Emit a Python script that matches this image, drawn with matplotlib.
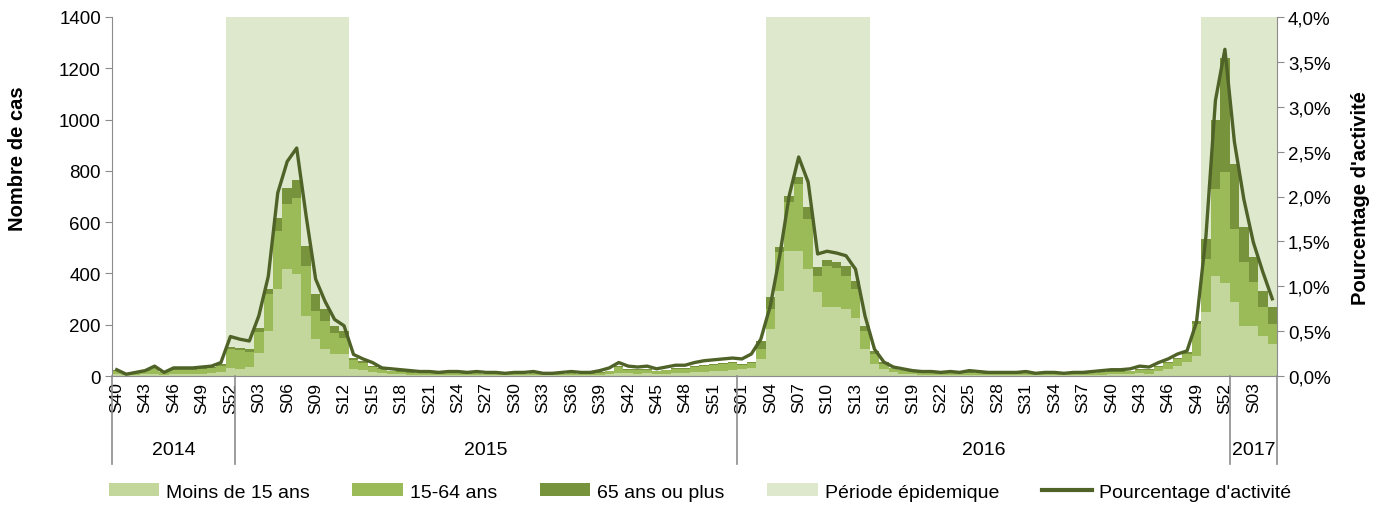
import numpy as np
import matplotlib
matplotlib.use("Agg")
import matplotlib.pyplot as plt
from matplotlib.patches import Patch
from matplotlib.lines import Line2D
from matplotlib.ticker import FuncFormatter

plt.rcParams["font.family"] = ["Liberation Sans", "DejaVu Sans"]

# semaines par saison (S40 2014 -> S05 2017)
annees = ["2014", "2015", "2016", "2017"]
premiere_semaine = [40, 1, 1, 1]
derniere_semaine = [52, 53, 52, 5]

# cas par classe d'âge
moins15 = [
    6, 3, 4, 6, 9, 5, 8, 8, 8, 9, 10, 14, 30,
    28, 35, 91, 175, 338, 416, 396, 234, 143, 104, 84, 84, 26, 22, 15, 12,
    7, 6, 5, 4, 4, 3, 4, 4, 3, 4, 3, 3, 2, 3, 3, 4, 2, 2, 3, 4, 3, 3, 5, 7, 13, 10, 9, 10, 7, 9, 11, 12, 14, 16, 18, 20, 22,
    27, 33, 66, 183, 333, 489, 489, 417, 326, 268, 268, 261, 228, 105, 45, 27, 16,
    9, 6, 5, 5, 4, 5, 4, 5, 4, 3, 3, 3, 3, 4, 3, 3, 3, 3, 3, 3, 4, 5, 6, 7, 7, 10, 9,
    21, 27, 40, 53, 79, 248, 390, 364,
    287, 196, 196, 157, 124,
]
adultes = [
    13, 5, 9, 13, 21, 9, 16, 17, 17, 19, 21, 26, 75,
    72, 60, 82, 143, 227, 253, 299, 195, 110, 110, 85, 65, 38, 30, 20, 17,
    11, 10, 8, 7, 7, 6, 7, 7, 6, 6, 5, 5, 4, 5, 5, 6, 4, 4, 5, 6, 5, 6, 8, 11, 21, 15, 14, 15, 11, 13, 16, 17, 20, 23, 25, 27, 28,
    17, 19, 39, 78, 149, 188, 260, 195, 65, 162, 152, 130, 111, 71, 40, 20, 14,
    13, 10, 8, 8, 7, 7, 6, 8, 8, 6, 6, 6, 6, 7, 4, 6, 5, 4, 6, 6, 8, 9, 10, 10, 12, 15, 14,
    16, 22, 28, 32, 124, 208, 338, 430,
    286, 247, 169, 111, 79,
]
seniors = [
    3, 1, 2, 3, 4, 2, 3, 3, 3, 4, 4, 5, 8,
    10, 9, 15, 20, 52, 65, 71, 77, 68, 46, 26, 26, 7, 6, 4, 3,
    2, 2, 2, 2, 1, 1, 1, 1, 1, 1, 1, 1, 1, 1, 1, 1, 1, 1, 1, 1, 1, 1, 1, 2, 4, 3, 3, 3, 2, 3, 3, 3, 4, 5, 5, 5, 5,
    3, 3, 32, 46, 20, 26, 26, 46, 33, 23, 23, 39, 33, 20, 13, 6, 3,
    3, 2, 2, 1, 1, 1, 1, 2, 1, 1, 1, 1, 1, 1, 1, 1, 1, 1, 1, 1, 1, 1, 2, 2, 2, 3, 3,
    3, 4, 4, 7, 13, 78, 272, 448,
    254, 137, 98, 65, 65,
]
# pourcentage d'activité (%)
activite = [
    0.07, 0.02, 0.04, 0.06, 0.11, 0.04, 0.09, 0.09, 0.09, 0.10, 0.11, 0.15, 0.44,
    0.41, 0.39, 0.67, 1.11, 2.04, 2.39, 2.54, 1.78, 1.08, 0.83, 0.63, 0.56, 0.24, 0.19, 0.15, 0.09,
    0.08, 0.07, 0.06, 0.05, 0.05, 0.04, 0.05, 0.05, 0.04, 0.05, 0.04, 0.04, 0.03, 0.04, 0.04, 0.05, 0.03, 0.03, 0.04,
    0.05, 0.04, 0.04, 0.06, 0.09, 0.15, 0.11, 0.10, 0.11, 0.08, 0.10, 0.12, 0.12, 0.15, 0.17, 0.18, 0.19, 0.20,
    0.19, 0.245, 0.41, 0.78, 1.34, 2.01, 2.44, 2.16, 1.36, 1.39, 1.37, 1.34, 1.19, 0.67, 0.30, 0.155, 0.10,
    0.08, 0.06, 0.05, 0.05, 0.04, 0.05, 0.04, 0.06, 0.05, 0.04, 0.04, 0.04, 0.04, 0.05, 0.03, 0.04, 0.04, 0.03, 0.04,
    0.04, 0.05, 0.06, 0.07, 0.07, 0.08, 0.11, 0.10,
    0.15, 0.19, 0.245, 0.28, 0.60, 1.56, 3.07, 3.64,
    2.61, 1.97, 1.49, 1.16, 0.86,
]
# périodes épidémiques (année, semaine début) -> (année, semaine fin)
epidemies = [(("2014", 52), ("2015", 12)), (("2016", 4), ("2016", 14)), (("2016", 50), ("2017", 5))]

# construction des catégories
semaines, index = [], {}
for an, s0, s1 in zip(annees, premiere_semaine, derniere_semaine):
    for s in range(s0, s1 + 1):
        index[(an, s)] = len(semaines)
        semaines.append("S%02d" % s)
n = len(semaines)
x = np.arange(n)

c_light, c_mid, c_dark = "#c3d69b", "#9bbb59", "#77933c"
c_epi, c_line, c_axe = "#dee8cc", "#4f6228", "#8c8c8c"

fig = plt.figure(figsize=(13.86, 5.06), dpi=100)
ax = fig.add_axes([112 / 1386, 1 - 377 / 506, 1165 / 1386, 359 / 506])

for (deb, fin) in epidemies:
    ax.axvspan(index[deb] - 0.5, index[fin] + 0.5, color=c_epi, lw=0, zorder=0)

m = np.array(moins15)
a = np.array(adultes)
s = np.array(seniors)
ax.bar(x, m, width=1.0, color=c_light, lw=0, zorder=2)
ax.bar(x, a, width=1.0, bottom=m, color=c_mid, lw=0, zorder=2)
ax.bar(x, s, width=1.0, bottom=m + a, color=c_dark, lw=0, zorder=2)

ax.set_xlim(-0.5, n - 0.5)
ax.set_ylim(0, 1400)
ax.set_yticks(range(0, 1401, 200))
ax.tick_params(axis="y", direction="out", length=5, color=c_axe, labelsize=13.5, pad=3)
ax.set_xticks(x[::3])
ax.set_xticklabels(semaines[::3], rotation=90, fontsize=12.5)
ax.tick_params(axis="x", length=0, pad=4)
for sp in ["top", "right"]:
    ax.spines[sp].set_visible(False)
for sp in ["left", "bottom"]:
    ax.spines[sp].set_color(c_axe)

# séparateurs d'années et libellés
bornes = [-0.5]
for an, s1 in zip(annees, derniere_semaine):
    bornes.append(index[(an, s1)] + 0.5)
trans = ax.get_xaxis_transform()
for b in bornes:
    ax.plot([b, b], [0, -0.245], transform=trans, color=c_axe, lw=1.2, clip_on=False)
for i, an in enumerate(annees):
    ax.text((bornes[i] + bornes[i + 1]) / 2, -0.205, an, transform=trans,
            ha="center", va="center", fontsize=14)

ax2 = ax.twinx()
ax2.plot(x, activite, color=c_line, lw=2.4, zorder=5)
ax2.set_ylim(0, 4)
ax2.set_yticks(np.arange(0, 4.01, 0.5))
ax2.yaxis.set_major_formatter(FuncFormatter(lambda v, p: ("%.1f%%" % v).replace(".", ",")))
ax2.tick_params(axis="y", direction="out", length=5, color=c_axe, labelsize=13.5, pad=3)
for sp in ["top", "left", "bottom"]:
    ax2.spines[sp].set_visible(False)
ax2.spines["right"].set_color(c_axe)

fig.text(18 / 1386, 1 - 159 / 506, "Nombre de cas", rotation=90, ha="center", va="center",
         fontsize=14.5, fontweight="bold")
fig.text(1361 / 1386, 1 - 198 / 506, "Pourcentage d'activité", rotation=90, ha="center",
         va="center", fontsize=14.5, fontweight="bold")

handles = [
    Patch(color=c_light, lw=0),
    Patch(color=c_mid, lw=0),
    Patch(color=c_dark, lw=0),
    Patch(color=c_epi, lw=0),
    Line2D([], [], color=c_line, lw=3),
]
labels = ["Moins de 15 ans", "15-64 ans", "65 ans ou plus", "Période épidemique", "Pourcentage d'activité"]
fig.legend(handles, labels, ncol=5, loc="center", bbox_to_anchor=(700 / 1386, 1 - 493 / 506),
           frameon=False, fontsize=14, handlelength=2.6, handleheight=0.6,
           handletextpad=0.35, columnspacing=2.2)

fig.savefig("out.png", dpi=100)
